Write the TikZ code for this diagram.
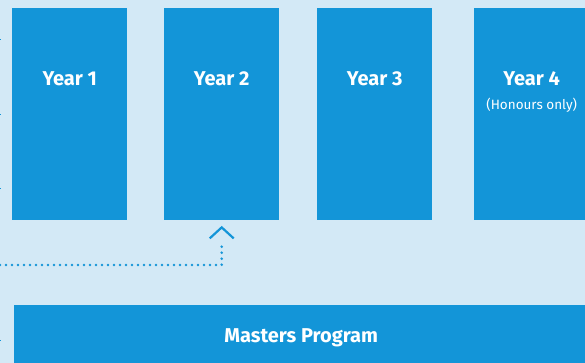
\documentclass[tikz,border=0pt]{standalone}
\usepackage{fontspec}
\setmainfont{Fira Sans}
\definecolor{bgblue}{HTML}{D3E9F6}
\definecolor{boxblue}{HTML}{1395D8}
\tikzset{
  yearbox/.style={fill=boxblue, inner sep=0pt, minimum width=115pt, minimum height=212pt, anchor=north west},
  boxlabel/.style={text=white, font=\bfseries\fontsize{20}{24}\selectfont, inner sep=0pt},
  sublabel/.style={text=white, font=\fontsize{13.5}{16}\selectfont, inner sep=0pt},
  dots/.style={boxblue, line width=2.9pt, line cap=round, dash pattern=on 0pt off 6pt}
}
\begin{document}
\begin{tikzpicture}[x=1pt,y=-1pt]
        \fill[bgblue] (0,0) rectangle (585,363);
        \useasboundingbox (0,0) rectangle (585,363);
        % the four years
        \node[yearbox] (y1) at (12,8) {};
        \node[yearbox] (y2) at (164,8) {};
        \node[yearbox] (y3) at (317,8) {};
        \node[yearbox] (y4) at (474,8) {};
        \node[boxlabel] (l1) at ([yshift=-71pt]y1.north) {Year 1};
        \node[boxlabel] (l2) at ([yshift=-71pt]y2.north) {Year 2};
        \node[boxlabel] (l3) at ([yshift=-71pt]y3.north) {Year 3};
        \node[boxlabel] (l4) at ([yshift=-71pt]y4.north) {Year 4};
        \node[sublabel] (hon) at ([yshift=-97pt]y4.north) {(Honours only)};
        % masters
        \node[fill=boxblue, inner sep=0pt, minimum width=574pt, minimum height=66pt, anchor=north west] (ma) at (14,305) {};
        \node[boxlabel] (lma) at (ma.center) {Masters Program};
        % entry into year 2
        \coordinate (from) at (0,265);
        \draw[dots] (from) -| ([yshift=-21pt]y2.south);
        \draw[boxblue, line width=2.2pt] ([xshift=-12pt,yshift=-18pt]y2.south) -- ([yshift=-7pt]y2.south) -- ([xshift=12pt,yshift=-18pt]y2.south);
        % ticks on the left edge
        \foreach \t in {40,115,189,340}
          \draw[boxblue, line width=1pt] (0,\t) -- (1.2,\t);
    \end{tikzpicture}
\end{document}
